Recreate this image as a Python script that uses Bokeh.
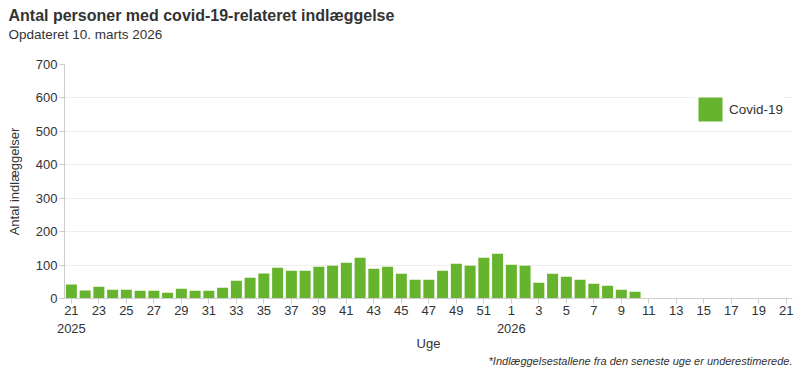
from bokeh.plotting import figure
from bokeh.models import (ColumnDataSource, FixedTicker, Title, Legend, LegendItem)
from bokeh.embed import file_html
from bokeh.resources import INLINE

FONT = "Liberation Sans"

weeks = list(range(21, 53)) + list(range(1, 22))
years = [2025] * 32 + [2026] * 21
nan = float("nan")
values = [42, 24, 35, 26, 26, 23, 23, 17, 29, 23, 23, 32, 53, 62, 75, 92,
          83, 83, 95, 98, 107, 122, 89, 95, 74, 56, 56, 83, 104, 98, 122, 134,
          101, 98, 47, 74, 65, 56, 44, 38, 26, 20,
          nan, nan, nan, nan, nan, nan, nan, nan, nan, nan, nan]
y_ticks = [0, 100, 200, 300, 400, 500, 600, 700]
series_name = "Covid-19"

idx = list(range(len(weeks)))
src = ColumnDataSource(dict(x=idx, top=values))

p = figure(width=800, height=375, output_backend="svg", toolbar_location=None,
           x_range=(-0.5, 52.45), y_range=(0, 700),
           min_border_left=64, min_border_right=8, min_border_top=64,
           min_border_bottom=77)
p.outline_line_color = None
p.background_fill_color = "white"
p.border_fill_color = "white"
p.title = None

r = p.vbar(x="x", top="top", width=0.8, source=src, fill_color="#66b32e",
           line_color=None)

# titles (first added is nearest the frame)
spacer = Title(text=" ", text_font_size="2px", standoff=17)
t_sub = Title(text="Opdateret 10. marts 2026", align="left", offset=-56,
              text_font=FONT, text_font_size="13.5px", text_font_style="normal",
              text_color="#333333", standoff=3)
t_main = Title(text="Antal personer med covid-19-relateret indlæggelse", align="left",
               offset=-56, text_font=FONT, text_font_size="16px",
               text_font_style="bold", text_color="#333333", standoff=0)
p.add_layout(spacer, "above")
p.add_layout(t_sub, "above")
p.add_layout(t_main, "above")

foot = Title(text="*Indlæggelsestallene fra den seneste uge er underestimerede.",
             align="right", text_font=FONT, text_font_size="11px",
             text_font_style="italic", text_color="#333333", standoff=-1)
p.add_layout(foot, "below")

# x axis
xa = p.xaxis[0]
xa.ticker = FixedTicker(ticks=[i for i in idx if i % 2 == 0])
overrides = {}
for i in idx:
    if i % 2 == 0:
        lab = str(weeks[i])
        if i == 0 or (years[i] != years[i - 1]):
            lab = lab + "\n" + str(years[i])
        overrides[i] = lab
xa.major_label_overrides = overrides
xa.axis_label = "Uge"
xa.axis_label_text_font = FONT
xa.axis_label_text_font_size = "13px"
xa.axis_label_text_font_style = "normal"
xa.axis_label_text_color = "#333333"
xa.axis_label_standoff = -3
xa.major_label_text_font = FONT
xa.major_label_text_font_size = "13px"
xa.major_label_text_color = "#333333"
xa.axis_line_color = "#cccccc"
xa.major_tick_line_color = "#cccccc"
xa.major_tick_out = 5
xa.major_tick_in = 0
xa.minor_tick_line_color = None
xa.major_label_standoff = -1

ya = p.yaxis[0]
ya.ticker = FixedTicker(ticks=y_ticks)
ya.axis_label = "Antal indlæggelser"
ya.axis_label_text_font = FONT
ya.axis_label_text_font_size = "13px"
ya.axis_label_text_font_style = "normal"
ya.axis_label_text_color = "#333333"
ya.axis_label_standoff = 11
ya.major_label_text_font = FONT
ya.major_label_text_font_size = "13px"
ya.major_label_text_color = "#333333"
ya.axis_line_color = "#cccccc"
ya.major_tick_line_color = "#cccccc"
ya.major_tick_out = 5
ya.major_tick_in = 0
ya.minor_tick_line_color = None
ya.major_label_standoff = 2

p.xgrid.grid_line_color = None
p.ygrid.grid_line_color = "#eeeeee"
p.ygrid.ticker = FixedTicker(ticks=y_ticks)

legend = Legend(items=[LegendItem(label=series_name, renderers=[r])],
                location=(631, 174), padding=0, margin=0,
                glyph_width=30, glyph_height=30, label_standoff=4,
                label_text_font=FONT, label_text_font_size="13.5px",
                label_text_color="#333333", border_line_color=None,
                background_fill_color="white", background_fill_alpha=1.0)
p.add_layout(legend, "center")

open("out.html", "w").write(file_html(p, INLINE))
